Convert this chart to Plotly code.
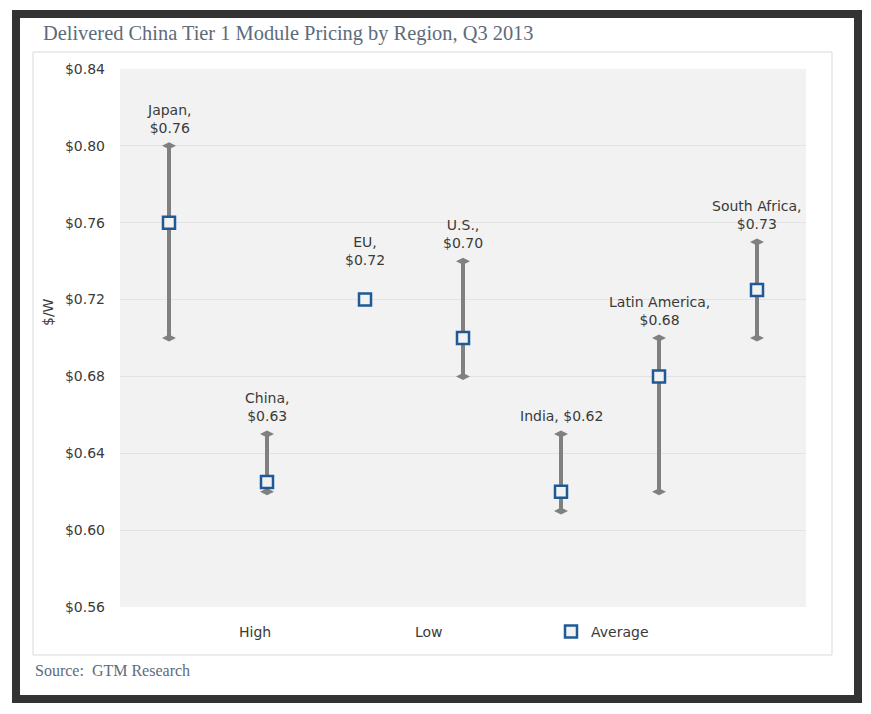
import plotly.graph_objects as go

# ---- data ----
regions = ["Japan", "China", "EU", "U.S.", "India", "Latin America", "South Africa"]
high = [0.80, 0.65, 0.72, 0.74, 0.65, 0.70, 0.75]
low = [0.70, 0.62, 0.72, 0.68, 0.61, 0.62, 0.70]
average = [0.76, 0.625, 0.72, 0.70, 0.62, 0.68, 0.725]
label_prices = ["$0.76", "$0.63", "$0.72", "$0.70", "$0.62", "$0.68", "$0.73"]
y_tick_values = [0.56, 0.60, 0.64, 0.68, 0.72, 0.76, 0.80, 0.84]
y_tick_labels = ["$0.56", "$0.60", "$0.64", "$0.68", "$0.72", "$0.76", "$0.80", "$0.84"]

# ---- styling ----
OFF = 8  # default body margin of the page
W, H = 871 - 2 * OFF, 714 - 2 * OFF
M_L, M_R, M_T, M_B = 112, 57, 61, 99
PW, PH = W - M_L - M_R, H - M_T - M_B
SANS = "DejaVu Sans, Verdana, sans-serif"
SERIF = "Liberation Serif, Times New Roman, serif"
TEXT = "#3a3a3a"
SERIF_COL = "#5d6b7b"
GRAY = "#808080"
BLUE = "#1f5a96"
single_line = {"India"}
extra_shift = {"EU": 22}


def px_x(px):  # page pixel -> paper coordinate
    return (px - OFF - M_L) / PW


def px_y(py):
    return (H - M_B - (py - OFF)) / PH


fig = go.Figure()

# high-low lines with diamond end caps
lx, ly = [], []
for r, h, l in zip(regions, high, low):
    if h != l:
        lx += [r, r, None]
        ly += [l, h, None]
fig.add_trace(go.Scatter(
    x=lx, y=ly, mode="lines+markers", showlegend=False, hoverinfo="skip",
    line=dict(color=GRAY, width=4),
    marker=dict(symbol="diamond-wide", size=10, color=GRAY),
))

# legend entries for High / Low (no visible symbol, as in the original)
fig.add_trace(go.Scatter(x=regions, y=high, mode="markers", name="High",
                         marker=dict(size=8, color="rgba(0,0,0,0)")))
fig.add_trace(go.Scatter(x=regions, y=low, mode="markers", name="Low",
                         marker=dict(size=8, color="rgba(0,0,0,0)")))
fig.add_trace(go.Scatter(
    x=regions, y=average, mode="markers", name="Average",
    marker=dict(symbol="square", size=12, color="#f2f2f2",
                line=dict(color=BLUE, width=2.5)),
))

annotations = []
for r, h, p in zip(regions, high, label_prices):
    sep = " " if r in single_line else "<br>"
    annotations.append(dict(
        x=r, y=h, xref="x", yref="y", text=f"{r},{sep}{p}", showarrow=False,
        yanchor="bottom", xanchor="center", yshift=8 + extra_shift.get(r, 0),
        font=dict(family=SANS, size=14, color=TEXT), align="center",
    ))

annotations.append(dict(
    x=px_x(48), y=px_y(312), xref="paper", yref="paper", text="$/W",
    textangle=-90, showarrow=False, xanchor="center", yanchor="middle",
    font=dict(family=SANS, size=14, color=TEXT),
))
annotations.append(dict(
    x=px_x(33), y=px_y(670), xref="paper", yref="paper",
    text="Source:&nbsp; GTM Research", showarrow=False,
    xanchor="left", yanchor="middle",
    font=dict(family=SERIF, size=16, color=SERIF_COL),
))

shapes = [
    dict(type="rect", xref="paper", yref="paper",
         x0=px_x(16), x1=px_x(858), y0=px_y(14), y1=px_y(699),
         line=dict(color="#333333", width=8), fillcolor="rgba(0,0,0,0)", layer="below"),
    dict(type="rect", xref="paper", yref="paper",
         x0=px_x(33), x1=px_x(832), y0=px_y(52), y1=px_y(655),
         line=dict(color="#d9d9d9", width=1), fillcolor="rgba(0,0,0,0)", layer="below"),
]

fig.update_layout(
    width=W, height=H,
    margin=dict(l=M_L, r=M_R, t=M_T, b=M_B, autoexpand=False),
    paper_bgcolor="white", plot_bgcolor="#f2f2f2",
    title=dict(text="Delivered China Tier 1 Module Pricing by Region, Q3 2013",
               x=(43 - OFF) / W, xanchor="left", xref="container",
               y=1 - (33 - OFF) / H, yanchor="middle", yref="container",
               font=dict(family=SERIF, size=20.4, color=SERIF_COL)),
    xaxis=dict(type="category", categoryorder="array", categoryarray=regions,
               range=[-0.5, 6.5], showticklabels=False,
               showgrid=False, zeroline=False, showline=False, fixedrange=True),
    yaxis=dict(range=[0.56, 0.84], tickvals=y_tick_values, ticktext=y_tick_labels,
               showgrid=True, gridcolor="#e3e3e3", gridwidth=1, zeroline=False,
               showline=False, ticklabelstandoff=14,
               tickfont=dict(family=SANS, size=14, color=TEXT), fixedrange=True),
    legend=dict(orientation="h", xref="container", yref="container",
                x=191 / W, xanchor="left", y=1 - (632 - OFF) / H, yanchor="middle",
                entrywidth=131, entrywidthmode="pixels",
                font=dict(family=SANS, size=14, color=TEXT),
                bgcolor="rgba(0,0,0,0)"),
    annotations=annotations,
    shapes=shapes,
    showlegend=True,
)

fig.write_html("out.html")
